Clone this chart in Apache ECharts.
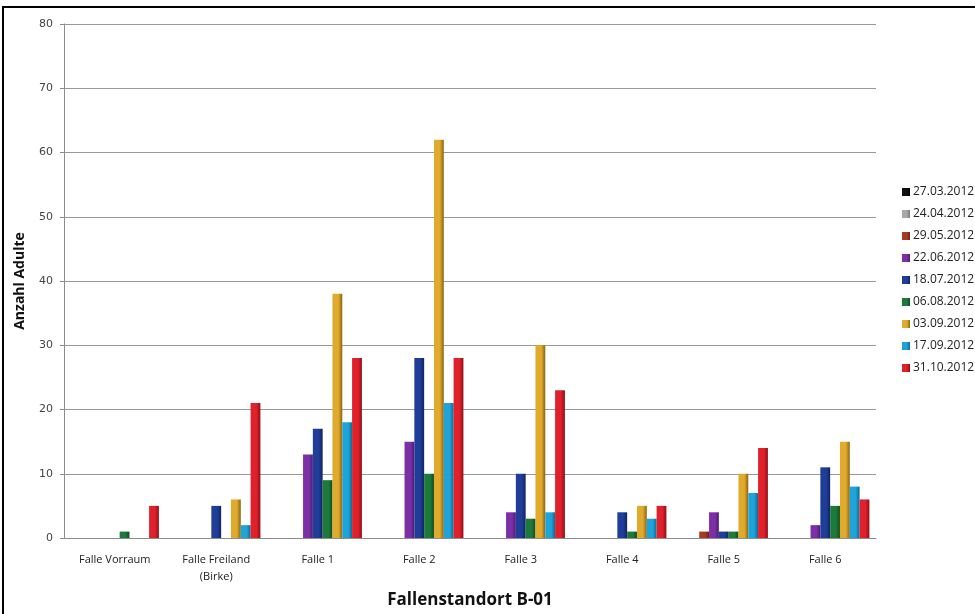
<!DOCTYPE html>
<html>
<head>
<meta charset="utf-8">
<script src="https://cdn.jsdelivr.net/npm/echarts@6/dist/echarts.min.js"></script>
<style>
  html, body { margin: 0; padding: 0; background: #fff; }
  #chart { width: 975px; height: 614px; }
</style>
</head>
<body>
<div id="chart"></div>
<script>
// Fallen (Kategorien)
var categories = ['Falle Vorraum', 'Falle Freiland\n(Birke)', 'Falle 1', 'Falle 2', 'Falle 3', 'Falle 4', 'Falle 5', 'Falle 6'];
var dates = ['27.03.2012', '24.04.2012', '29.05.2012', '22.06.2012', '18.07.2012', '06.08.2012', '03.09.2012', '17.09.2012', '31.10.2012'];

// Anzahl Adulte je Datum
var d2703 = [0, 0, 0, 0, 0, 0, 0, 0];
var d2404 = [0, 0, 0, 0, 0, 0, 0, 0];
var d2905 = [0, 0, 0, 0, 0, 0, 1, 0];
var d2206 = [0, 0, 13, 15, 4, 0, 4, 2];
var d1807 = [0, 5, 17, 28, 10, 4, 1, 11];
var d0608 = [1, 0, 9, 10, 3, 1, 1, 5];
var d0309 = [0, 6, 38, 62, 30, 5, 10, 15];
var d1709 = [0, 2, 18, 21, 4, 3, 7, 8];
var d3110 = [5, 21, 28, 28, 23, 5, 14, 6];

var yTicks = [0, 10, 20, 30, 40, 50, 60, 70, 80];

var values = [d2703, d2404, d2905, d2206, d1807, d0608, d0309, d1709, d3110];
var colors = ['#111111', '#a8a8a8', '#a83a22', '#7b30a8', '#1f3d99', '#1d7a3b', '#e0aa2c', '#1fa4da', '#e0202b'];
var darks  = ['#000000', '#7a7a7a', '#6e2414', '#4e1a70', '#10245e', '#0f4c22', '#8a6410', '#106a90', '#8e1018'];

var chart = echarts.init(document.getElementById('chart'));

var series = dates.map(function (d, i) {
    return {
        name: d,
        type: 'bar',
        data: values[i],
        barGap: '0%',
        barCategoryGap: '13%',
        itemStyle: {
            color: new echarts.graphic.LinearGradient(0, 0, 1, 0, [
                { offset: 0, color: colors[i] },
                { offset: 0.6, color: colors[i] },
                { offset: 1, color: darks[i] }
            ])
        }
    };
});

chart.setOption({
    animation: false,
    backgroundColor: '#fff',
    graphic: [{
        type: 'rect',
        shape: { x: 3, y: 7, width: 1000, height: 640 },
        style: { fill: 'none', stroke: '#000', lineWidth: 2 }
    }],
    legend: {
        orient: 'vertical',
        left: 897,
        top: 181,
        itemWidth: 8,
        itemHeight: 8,
        itemGap: 10,
        icon: 'rect',
        data: dates,
        textStyle: { fontFamily: 'Open Sans', fontSize: 12, color: '#222', padding: [0, 0, 0, -2] }
    },
    grid: { left: 64, right: 99, top: 24, bottom: 76 },
    xAxis: {
        type: 'category',
        data: categories,
        name: 'Fallenstandort B-01',
        nameLocation: 'middle',
        nameGap: 54,
        nameTextStyle: { fontFamily: 'Open Sans', fontWeight: 'bold', fontSize: 17, color: '#111' },
        axisLine: { lineStyle: { color: '#8c8c8c' } },
        axisTick: { length: 5, lineStyle: { color: '#8c8c8c' } },
        axisLabel: { fontFamily: 'Open Sans', fontSize: 11, color: '#222', margin: 13, lineHeight: 17 }
    },
    yAxis: {
        type: 'value',
        min: yTicks[0],
        max: yTicks[yTicks.length - 1],
        interval: 10,
        name: 'Anzahl Adulte',
        nameLocation: 'middle',
        nameGap: 37,
        nameTextStyle: { fontFamily: 'Open Sans', fontWeight: 'bold', fontSize: 14, color: '#111' },
        axisLine: { show: true, lineStyle: { color: '#8c8c8c' } },
        axisTick: { show: true, length: 4, lineStyle: { color: '#8c8c8c' } },
        axisLabel: { fontFamily: 'DejaVu Sans', fontSize: 11, color: '#444', margin: 11 },
        splitLine: { lineStyle: { color: '#999', width: 1 } }
    },
    series: series
});
</script>
</body>
</html>
